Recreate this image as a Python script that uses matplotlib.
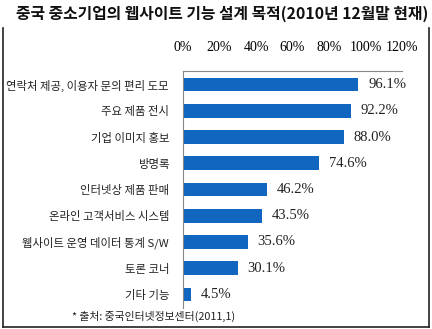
import matplotlib.pyplot as plt

categories = [
    "연락처 제공, 이용자 문의 편리 도모",
    "주요 제품 전시",
    "기업 이미지 홍보",
    "방명록",
    "인터넷상 제품 판매",
    "온라인 고객서비스 시스템",
    "웹사이트 운영 데이터 통계 S/W",
    "토론 코너",
    "기타 기능",
]
values = [96.1, 92.2, 88.0, 74.6, 46.2, 43.5, 35.6, 30.1, 4.5]
x_ticks = [0, 20, 40, 60, 80, 100, 120]

title = "중국 중소기업의 웹사이트 기능 설계 목적(2010년 12월말 현재)"
source = "* 출처: 중국인터넷정보센터(2011,1)"

kr_font = ["Noto Sans CJK KR", "DejaVu Sans"]
num_font = ["Liberation Serif", "DejaVu Serif"]
bar_color = "#1167c0"

fig = plt.figure(figsize=(4.32, 3.29), dpi=100)
fig.patch.set_facecolor("white")

ax = fig.add_axes([183 / 432, 21 / 329, 219 / 432, 237 / 329])
pos = list(range(len(categories)))
ax.barh(pos, values, height=0.52, color=bar_color)

ax.set_xlim(0, 120)
ax.set_ylim(8.52, -0.52)
ax.xaxis.tick_top()
ax.set_xticks(x_ticks)
ax.set_xticklabels([f"{t}%" for t in x_ticks], family=num_font, fontsize=10)
ax.tick_params(axis="x", length=0, pad=12)
ax.set_yticks(pos)
ax.set_yticklabels(categories, family=kr_font, fontsize=8.2, color="#222222")
ax.tick_params(axis="y", length=0, pad=10)

for s in ["right", "bottom"]:
    ax.spines[s].set_visible(False)
for s in ["top", "left"]:
    ax.spines[s].set_color("#888888")
    ax.spines[s].set_linewidth(0.8)

for p, v in zip(pos, values):
    ax.annotate(f"{v:.1f}%", (v, p), xytext=(7, 0), textcoords="offset points",
                va="center", ha="left", family=num_font, fontsize=10.5, color="#222222")

fig.text(428 / 432, 1 - 14 / 329, title, ha="right", va="center",
         family=kr_font, fontsize=11.4, fontweight="bold", color="#111111")
fig.text(154 / 432, 1 - 316 / 329, source, ha="center", va="center",
         family=kr_font, fontsize=7.8, color="#222222")

# frame around the chart area (open at the top)
frame = dict(color="#222222", linewidth=1.2, transform=fig.transFigure)
fig.add_artist(plt.Line2D([3 / 432, 3 / 432], [1 - 28 / 329, 1 - 327 / 329], **frame))
fig.add_artist(plt.Line2D([429 / 432, 429 / 432], [1 - 28 / 329, 1 - 327 / 329], **frame))
fig.add_artist(plt.Line2D([3 / 432, 429 / 432], [1 - 327 / 329, 1 - 327 / 329], **frame))

fig.savefig("out.png", dpi=100)
